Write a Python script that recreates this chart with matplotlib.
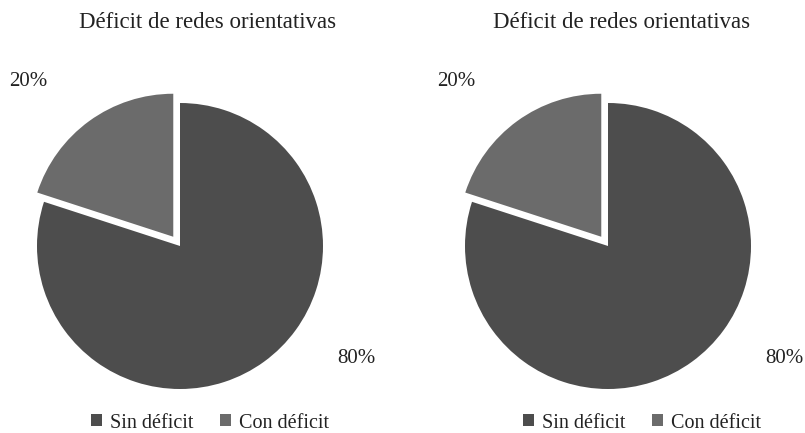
import matplotlib.pyplot as plt
from matplotlib.patches import Patch

plt.rcParams['font.family'] = ['Liberation Serif', 'DejaVu Serif']

title = "Déficit de redes orientativas"
categories = ["Sin déficit", "Con déficit"]
values_left = [80, 20]
values_right = [80, 20]
colors = ["#4d4d4d", "#6b6b6b"]

W, H = 805, 433
R = 143  # pie radius in px
fig = plt.figure(figsize=(W / 100, H / 100), dpi=100)


def draw(cx, cy, values, title_x, legend_x):
    lim = 1.3
    size = 2 * lim * R
    ax = fig.add_axes([(cx - size / 2) / W, 1 - (cy + size / 2) / H, size / W, size / H])
    wedges, texts = ax.pie(values, colors=colors, startangle=90, counterclock=False,
                           explode=[0, 0.08], radius=1,
                           labels=[f"{v}%" for v in values],
                           wedgeprops=dict(linewidth=0))
    # label placement as in the original
    for t, pos in zip(texts, [(1.23, -0.79), (-1.06, 1.15)]):
        t.set_position(pos)
        t.set_ha("center")
        t.set_va("center")
        t.set_fontsize(15)
        t.set_color("#222222")
        t.set_clip_on(False)
    ax.set_xlim(-lim, lim)
    ax.set_ylim(-lim, lim)
    ax.set_aspect("equal")
    ax.axis("off")

    fig.text(title_x / W, 1 - 22 / H, title, ha="center", va="center",
             fontsize=16.5, color="#222222")
    handles = [Patch(facecolor=c, edgecolor="none") for c in colors]
    fig.legend(handles, categories, loc="center", ncol=2, frameon=False,
               bbox_to_anchor=(legend_x / W, 1 - 423 / H), fontsize=14.5,
               handlelength=0.55, handleheight=0.55, handletextpad=0.4,
               columnspacing=1.3, labelcolor="#222222")


draw(180, 246, values_left, 208, 210)
draw(608, 246, values_right, 622, 642)

fig.savefig("out.png", dpi=100)
